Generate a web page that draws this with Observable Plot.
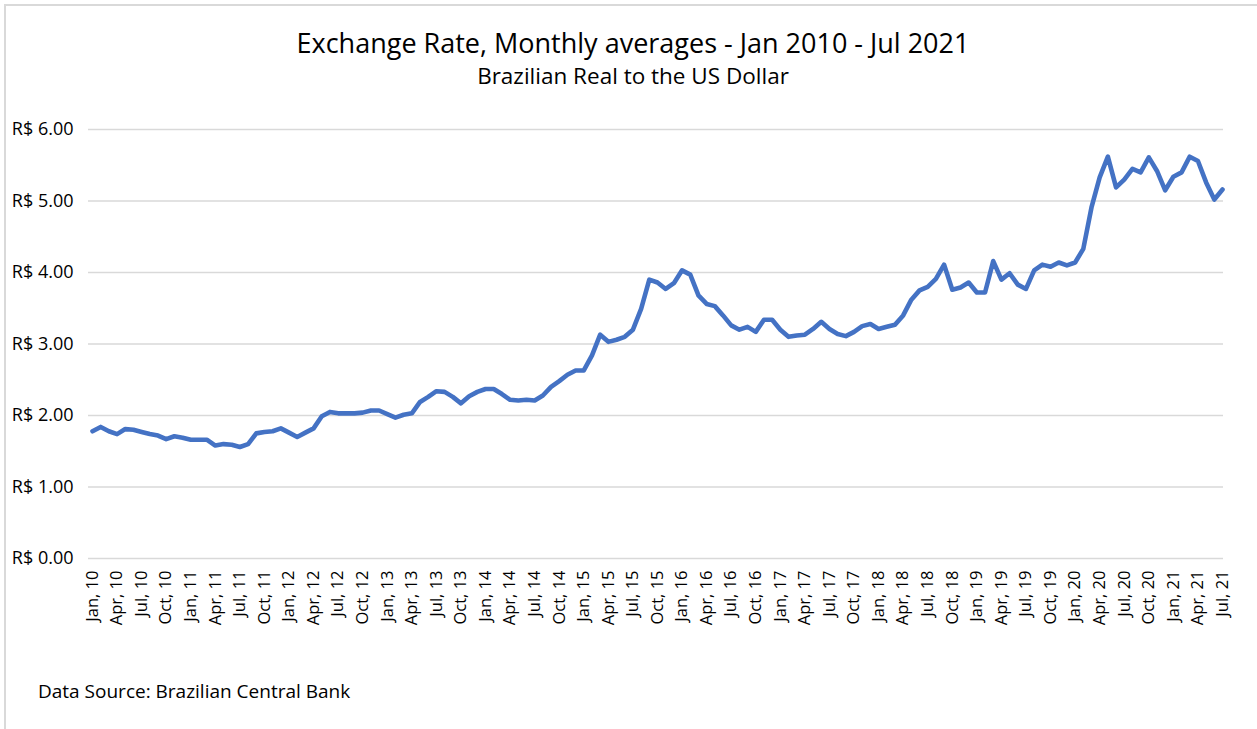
<!DOCTYPE html>
<html>
<head>
<meta charset="utf-8">
<script src="https://cdn.jsdelivr.net/npm/d3@7"></script>
<script src="https://cdn.jsdelivr.net/npm/@observablehq/plot@0.6"></script>
<style>
  html, body { margin: 0; padding: 0; background: #fff; overflow: hidden; }
  #wrap { position: relative; width: 1257px; height: 729px; overflow: hidden; font-family: "Open Sans", "Noto Sans", sans-serif; color: #000; }
  #frame { position: absolute; left: 4px; top: 4px; width: 1300px; height: 800px; border-top: 2px solid #d9d9d9; border-left: 2px solid #d9d9d9; box-sizing: border-box; }
  #title { position: absolute; left: 0; width: 1266px; top: 26px; text-align: center; font-size: 27px; line-height: 34px; }
  #subtitle { position: absolute; left: 0; width: 1266px; top: 61px; text-align: center; font-size: 22.5px; line-height: 30px; }
  #chart { position: absolute; left: 0; top: 110px; }
  #caption { position: absolute; left: 38px; top: 678px; font-size: 19px; line-height: 26px; }
</style>
</head>
<body>
<div id="wrap">
  <div id="frame"></div>
  <div id="title">Exchange Rate, Monthly averages - Jan 2010 - Jul 2021</div>
  <div id="subtitle">Brazilian Real to the US Dollar</div>
  <div id="chart"></div>
  <div id="caption">Data Source: Brazilian Central Bank</div>
</div>
<script>
const monthNames = ["Jan","Feb","Mar","Apr","May","Jun","Jul","Aug","Sep","Oct","Nov","Dec"];
const years = ["10","11","12","13","14","15","16","17","18","19","20","21"];

const rates2010 = [1.78,1.84,1.78,1.74,1.81,1.80,1.77,1.74,1.72,1.67,1.71,1.69];
const rates2011 = [1.66,1.66,1.66,1.58,1.60,1.59,1.56,1.60,1.75,1.77,1.78,1.82];
const rates2012 = [1.76,1.70,1.76,1.82,1.99,2.05,2.03,2.03,2.03,2.04,2.07,2.07];
const rates2013 = [2.02,1.97,2.01,2.03,2.19,2.26,2.34,2.33,2.26,2.17,2.27,2.33];
const rates2014 = [2.37,2.37,2.30,2.22,2.21,2.22,2.21,2.28,2.40,2.48,2.57,2.63];
const rates2015 = [2.63,2.84,3.13,3.03,3.06,3.10,3.20,3.49,3.90,3.86,3.77,3.85];
const rates2016 = [4.03,3.97,3.68,3.56,3.53,3.40,3.26,3.20,3.24,3.17,3.34,3.34];
const rates2017 = [3.20,3.10,3.12,3.13,3.21,3.31,3.21,3.14,3.11,3.17,3.25,3.28];
const rates2018 = [3.21,3.24,3.27,3.40,3.62,3.75,3.80,3.91,4.11,3.76,3.79,3.86];
const rates2019 = [3.72,3.72,4.16,3.90,3.99,3.83,3.77,4.03,4.11,4.08,4.14,4.10];
const rates2020 = [4.14,4.33,4.91,5.33,5.62,5.19,5.30,5.45,5.40,5.61,5.42,5.15];
const rates2021 = [5.34,5.40,5.62,5.56,5.26,5.02,5.16];

const yearRates = [rates2010,rates2011,rates2012,rates2013,rates2014,rates2015,rates2016,rates2017,rates2018,rates2019,rates2020,rates2021];
const yTicks = [0,1,2,3,4,5,6];

const data = [];
yearRates.forEach((arr, yi) => {
  arr.forEach((v, mi) => data.push({label: `${monthNames[mi]}, ${years[yi]}`, rate: v}));
});
const labels = data.map(d => d.label);
const xTicks = labels.filter((d, i) => i % 3 === 0);

const chart = Plot.plot({
  width: 1257,
  height: 540,
  marginTop: 19,
  marginBottom: 92,
  marginLeft: 92,
  marginRight: 35,
  style: {fontFamily: "'Open Sans', 'Noto Sans', sans-serif", fontSize: "16px", color: "#000", background: "transparent"},
  x: {type: "point", domain: labels, padding: 0, round: false, label: null},
  y: {domain: [0, 6], label: null},
  marks: [
    Plot.ruleY(yTicks, {stroke: "#d9d9d9", strokeWidth: 1.5, insetLeft: -4, insetRight: -1}),
    Plot.axisY({ticks: yTicks, tickSize: 0, tickPadding: 19, tickFormat: d => "R$ " + d.toFixed(2), fontSize: 18, fill: "#000", label: null}),
    Plot.axisX({ticks: xTicks, tickSize: 0, tickPadding: 12, tickRotate: -90, fontSize: 16.5, fill: "#000", label: null}),
    Plot.line(data, {x: "label", y: "rate", stroke: "#4472C4", strokeWidth: 4.6, strokeLinejoin: "round", strokeLinecap: "round"})
  ]
});
document.getElementById("chart").appendChild(chart);
</script>
</body>
</html>
